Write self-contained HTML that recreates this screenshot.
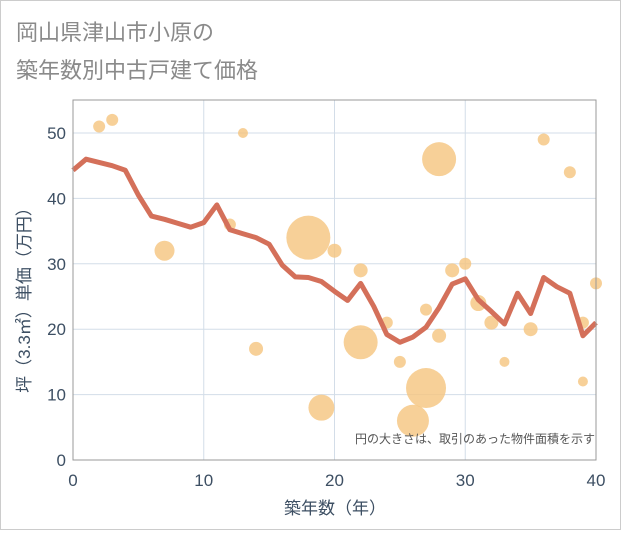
<!DOCTYPE html>
<html><head><meta charset="utf-8"><style>
body{margin:0;background:#fff;}
svg text{font-family:"Liberation Sans","Noto Sans CJK JP",sans-serif;}
</style></head><body>
<svg width="621" height="530" viewBox="0 0 621 530">
<rect x="0.5" y="0.5" width="620" height="529" fill="#fff" stroke="#ccc"/>
<text x="16" y="40" font-size="22" fill="#8a8a8a">岡山県津山市小原の</text>
<text x="16" y="78" font-size="22" fill="#8a8a8a">築年数別中古戸建て価格</text>
<g id="grid"></g>
<g id="bubbles"></g>
<g id="line"></g>
<g id="axes"></g>
<text x="595" y="443" font-size="12" fill="#555" text-anchor="end">円の大きさは、取引のあった物件面積を示す</text>
<text x="335" y="514" font-size="17" fill="#3d4f63" text-anchor="middle">築年数（年）</text>
<text transform="translate(30,296) rotate(-90)" font-size="17" fill="#3d4f63" text-anchor="middle">坪（3.3㎡）単価（万円）</text>
</svg>
<script>
const xTicks=[0,10,20,30,40];
const yTicks=[0,10,20,30,40,50];
const lineYears=[0,1,2,3,4,5,6,7,8,9,10,11,12,13,14,15,16,17,18,19,20,21,22,23,24,25,26,27,28,29,30,31,32,33,34,35,36,37,38,39,40];
const lineValues=[44.3,46,45.5,45,44.3,40.5,37.3,36.8,36.2,35.6,36.3,39,35.2,34.6,34,33,29.8,28,27.9,27.3,25.8,24.4,27,23.5,19.2,18,18.8,20.3,23.3,26.9,27.7,24.5,22.7,20.8,25.5,22.4,27.9,26.5,25.5,19,21];
const bubbleX=[2,3,7,12,13,14,18,19,20,22,22,24,25,26,27,27,28,28,29,30,31,32,33,35,36,38,39,39,40];
const bubbleY=[51,52,32,36,50,17,34,8,32,29,18,21,15,6,11,23,19,46,29,30,24,21,15,20,49,44,12,21,27];
const bubbleR=[6,6,10,6,5,7,22,13,7,7,17,6,6,16,20,6,7,17,7,6,8,7,5,7,6,6,5,6,6];
const X0=73,X1=596,Y0=460,Y1=133;
const sx=v=>X0+(v-0)/40*(X1-X0);
const sy=v=>Y0-(v/50)*(Y0-Y1);
const NS='http://www.w3.org/2000/svg';
function mk(t,a,p){const e=document.createElementNS(NS,t);for(const k in a)e.setAttribute(k,a[k]);p.appendChild(e);return e;}
const grid=document.getElementById('grid'),axes=document.getElementById('axes');
xTicks.forEach(t=>{
 const l=mk('line',{x1:sx(t),x2:sx(t),y1:100,y2:Y0,stroke:'#d3dde8','stroke-width':1},grid);
 
 
 const tx=mk('text',{x:sx(t),y:486,'font-size':17,fill:'#3d4f63','text-anchor':'middle'},axes);
 tx.textContent=t;
 
 
});
yTicks.forEach(t=>{
 const l=mk('line',{x1:X0,x2:X1,y1:sy(t),y2:sy(t),stroke:'#d3dde8','stroke-width':1},grid);
 
 
 const tx=mk('text',{x:66,y:sy(t)+6,'font-size':17,fill:'#3d4f63','text-anchor':'end'},axes);
 tx.textContent=t;
 
 
});
const frame=mk('rect',{x:X0,y:100,width:X1-X0,height:Y0-100,fill:'none',stroke:'#999','stroke-width':1},axes);


const bg=document.getElementById('bubbles');
bubbleX.forEach((x,i)=>{
 const c=mk('circle',{cx:sx(x),cy:sy(bubbleY[i]),r:bubbleR[i],fill:'#f5c47e','fill-opacity':0.8},bg);
 
 
});
const pts=lineYears.map((x,i)=>sx(x)+','+sy(lineValues[i])).join(' ');
const pl=mk('polyline',{points:pts,fill:'none',stroke:'#d4705a','stroke-width':5,'stroke-linejoin':'round'},document.getElementById('line'));


</script>
</body></html>
